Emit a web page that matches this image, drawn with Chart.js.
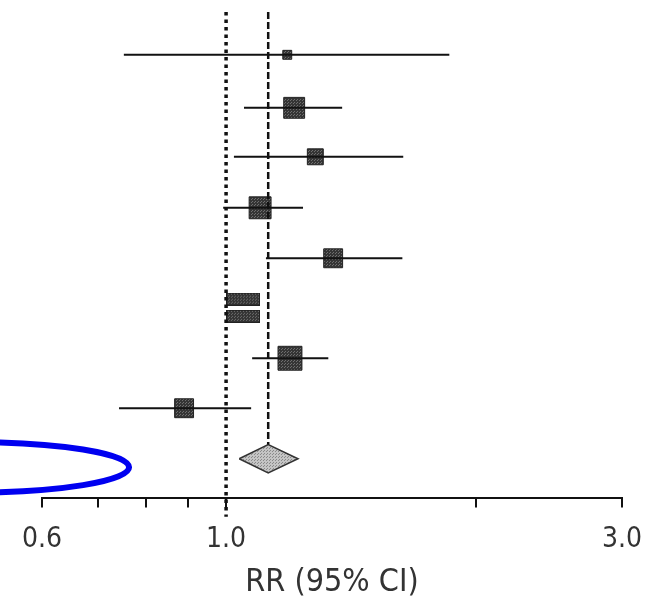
<!DOCTYPE html>
<html>
<head>
<meta charset="utf-8">
<script src="https://cdn.jsdelivr.net/npm/chart.js@4.4.1/dist/chart.umd.min.js"></script>
<style>
  body { margin: 0; background: #fff; }
  #wrap { width: 647px; height: 600px; }
</style>
</head>
<body>
<div id="wrap"><canvas id="forest"></canvas></div>
<script>
// données (RR et IC 95%)
const studyRow = [1, 2.05, 3.02, 4.03, 5.03, 5.84, 6.18, 7.01, 8]
const studyRR = [1.185, 1.208, 1.281, 1.099, 1.346, 1.048, 1.048, 1.194, 0.890]
const studyLow = [0.753, 1.051, 1.022, 0.992, 1.117, null, null, 1.075, 0.743]
const studyHigh = [1.858, 1.380, 1.635, 1.238, 1.631, null, null, 1.328, 1.072]
const studyWeight = [2, 11, 6.4, 12.1, 9, null, null, 14.4, 9]

const pooledRow = 9
const pooledRR = 1.124
const pooledLow = 1.037
const pooledHigh = 1.221

const tickValues = [0.6, 0.7, 0.8, 0.9, 1, 2, 3]
const tickLabels = [0.6, 1, 3]
const axisTitle = 'RR (95% CI)'

const fontFamily = '"DejaVu Sans Condensed", "Liberation Sans Narrow", "DejaVu Sans", sans-serif'

// petite texture pointillée (comme l'impression d'origine)
function makeTile(base, dot) {
    const c = document.createElement('canvas')
    c.width = 3
    c.height = 3
    const g = c.getContext('2d')
    g.fillStyle = base
    g.fillRect(0, 0, 3, 3)
    g.fillStyle = dot
    g.fillRect(0, 0, 1, 1)
    g.fillRect(2, 1, 1, 1)
    return c
}
const pat = document.createElement('canvas').getContext('2d')
const squareFill = pat.createPattern(makeTile('#353535', '#6e6e6e'), 'repeat')
const diamondFill = pat.createPattern(makeTile('#c4c4c4', '#8a8a8a'), 'repeat')

// boite rectangulaire pour les deux études aplaties
function makeBox(w, h) {
    const c = document.createElement('canvas')
    c.width = w
    c.height = h
    const g = c.getContext('2d')
    g.fillStyle = squareFill
    g.fillRect(0, 0, w, h)
    g.strokeStyle = '#222'
    g.strokeRect(0.5, 0.5, w - 1, h - 1)
    return c
}
const flatBox = makeBox(34, 13)

// lignes IC
const ciSets = []
studyRow.forEach((r, i) => {
    if (studyLow[i] == null) return
    ciSets.push({
        type: 'line',
        data: [{x: studyLow[i], y: r}, {x: studyHigh[i], y: r}],
        borderColor: '#111',
        borderWidth: 2,
        pointRadius: 0
    })
})

const pointStyles = studyWeight.map(w => w == null ? flatBox : 'rect')
const pointRadii = studyWeight.map(w => w == null ? 10 : 6.3 * Math.sqrt(w) / Math.SQRT2)

// ellipse bleue (annotation à la main)
const ellipsePlugin = {
    id: 'ellipse',
    afterDraw(chart) {
        const {ctx, scales: {x, y}} = chart
        const cx = x.getPixelForValue(0.494)
        const rx = x.getPixelForValue(0.764) - cx
        const cy = y.getPixelForValue(9.17)
        const ry = y.getPixelForValue(9.67) - cy
        ctx.save()
        ctx.beginPath()
        ctx.ellipse(cx, cy, rx, ry, 0, 0, Math.PI * 2)
        ctx.strokeStyle = '#0000f0'
        ctx.lineWidth = 6
        ctx.stroke()
        ctx.restore()
    }
}

const ctx = document.getElementById('forest')
const myChart = new Chart(ctx, {
    type: 'scatter',
    data: {
        datasets: [
            {
                type: 'line',
                data: [{x: 1, y: 0.15}, {x: 1, y: 10.15}],
                borderColor: '#111',
                borderWidth: 3.5,
                borderDash: [3.5, 4],
                pointRadius: 0,
                clip: false
            },
            {
                type: 'line',
                data: [{x: pooledRR, y: 0.15}, {x: pooledRR, y: pooledRow - 0.28}],
                borderColor: '#111',
                borderWidth: 2.5,
                borderDash: [7, 3],
                pointRadius: 0,
                clip: false
            },
            ...ciSets,
            {
                data: studyRR.map((v, i) => ({x: v, y: studyRow[i]})),
                pointStyle: pointStyles,
                pointRadius: pointRadii,
                backgroundColor: squareFill,
                borderColor: '#222',
                borderWidth: 1
            },
            {
                type: 'line',
                data: [
                    {x: pooledLow, y: pooledRow},
                    {x: pooledRR, y: pooledRow - 0.28},
                    {x: pooledHigh, y: pooledRow},
                    {x: pooledRR, y: pooledRow + 0.28},
                    {x: pooledLow, y: pooledRow}
                ],
                fill: 'shape',
                backgroundColor: diamondFill,
                borderColor: '#333',
                borderWidth: 1.5,
                pointRadius: 0,
                tension: 0
            }
        ]
    },
    options: {
        responsive: true,
        maintainAspectRatio: false,
        animation: false,
        layout: {padding: {left: 42, right: 25, top: 3, bottom: 0}},
        plugins: {legend: {display: false}, tooltip: {enabled: false}},
        scales: {
            x: {
                type: 'logarithmic',
                min: 0.6,
                max: 3,
                afterBuildTicks: axis => { axis.ticks = tickValues.map(v => ({value: v})) },
                ticks: {
                    autoSkip: false,
                    maxRotation: 0,
                    padding: 5,
                    color: '#333',
                    font: {family: fontFamily, size: 28, lineHeight: 1.95},
                    callback: v => tickLabels.includes(v) ? v.toFixed(1) : ''
                },
                grid: {drawOnChartArea: false, tickLength: 10, color: '#111', lineWidth: 2},
                border: {display: true, color: '#111', width: 2},
                title: {
                    display: true,
                    text: axisTitle,
                    color: '#333',
                    font: {family: fontFamily, size: 32, lineHeight: 0.65},
                    padding: {top: 0, bottom: 7}
                }
            },
            y: {
                display: false,
                reverse: true,
                min: 0.269,
                max: 9.77
            }
        }
    },
    plugins: [ellipsePlugin]
})
</script>
</body>
</html>
